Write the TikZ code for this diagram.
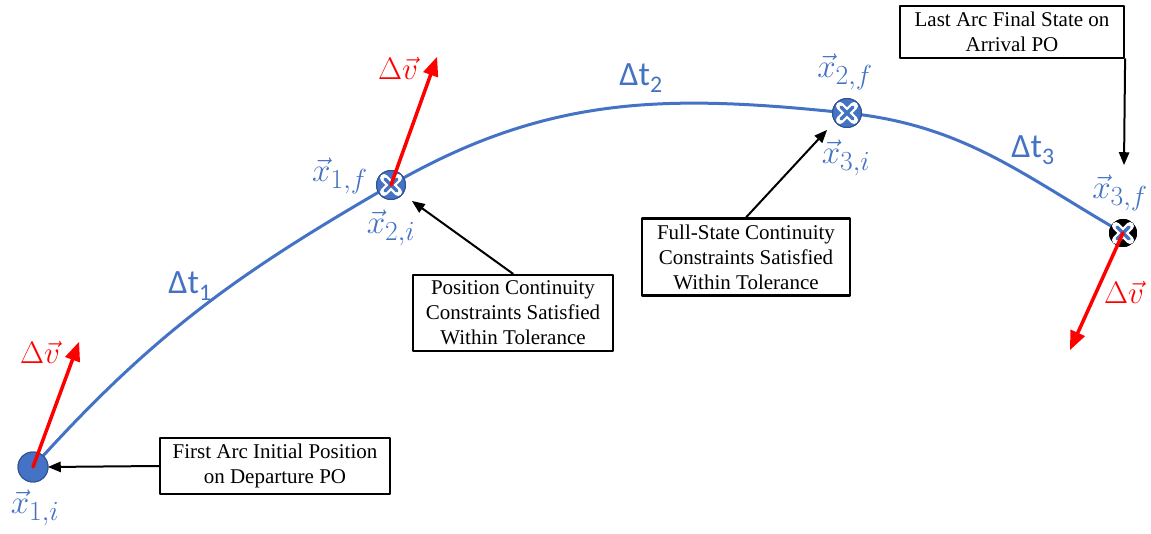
\documentclass[tikz,border=0pt]{standalone}
\usepackage{amsmath,amssymb}
\usepackage{fontspec}
\setmainfont{Liberation Serif}
\setsansfont{Carlito}
\usetikzlibrary{arrows}
\definecolor{qqttcc}{rgb}{0.267,0.447,0.769}
\definecolor{qqeeuu}{rgb}{0.184,0.322,0.561}
\definecolor{ffqqqq}{rgb}{1,0,0}
\newcommand{\bigvec}[1]{\scalebox{1.33}{$#1$}}

\begin{document}
\begin{tikzpicture}[line cap=round,line join=round,>=triangle 45,x=1pt,y=1pt,
  patchpt/.style={circle,inner sep=0pt,minimum size=30pt,fill=qqttcc,draw=qqeeuu,line width=1pt},
  notebox/.style={draw=black,line width=2.2pt,fill=white,align=center,inner sep=6pt,
    font=\fontsize{21}{25}\selectfont},
  veclbl/.style={color=qqttcc,font=\fontsize{24.88}{26}\selectfont},
  dtlbl/.style={color=qqttcc,font=\sffamily\fontsize{34}{34}\selectfont},
  dvlbl/.style={color=ffqqqq,font=\fontsize{24.88}{26}\selectfont}]
\useasboundingbox (0,0) rectangle (1151,533);

% patch points along the transfer
\node[patchpt] (p1) at (33,66) {};
\node[patchpt,minimum size=29pt] (p2) at (391,348) {};
\node[patchpt,minimum size=29pt] (p3) at (847,420) {};
\node[patchpt,minimum size=27pt,fill=black,draw=black] (p4) at (1123,300) {};

% arcs
\draw[color=qqttcc,line width=3pt] (p1.center) to[out=48,in=210] (p2.center)
  to[out=30,in=174] (p3.center) to[out=-6,in=150] (p4.center);

\node[patchpt] at (p1) {};
\node[patchpt,minimum size=29pt] at (p2) {};
\node[patchpt,minimum size=29pt] at (p3) {};
\node[patchpt,minimum size=27pt,fill=black,draw=black] at (p4) {};

\foreach \p in {p2,p3,p4}{
\draw[white,line width=8pt] ([shift={(-7,-7)}]\p.center) -- ([shift={(7,7)}]\p.center);
\draw[white,line width=8pt] ([shift={(-7,7)}]\p.center) -- ([shift={(7,-7)}]\p.center);
\draw[qqttcc,line width=3.5pt] ([shift={(-6,-6)}]\p.center) -- ([shift={(6,6)}]\p.center);
\draw[qqttcc,line width=3.5pt] ([shift={(-6,6)}]\p.center) -- ([shift={(6,-6)}]\p.center);
}

% delta-v
\coordinate (dv1) at (79,191);
\coordinate (dv2) at (437,476);
\coordinate (dv3) at (1070,183);
\draw[->,color=ffqqqq,line width=3.5pt] (p1.center) -- (dv1);
\draw[->,color=ffqqqq,line width=3.5pt] (p2.center) -- (dv2);
\draw[->,color=ffqqqq,line width=3.5pt] (p4.center) -- (dv3);
\node[dvlbl] (dvt1) at (40,181) {\scalebox{1.25}{$\Delta\vec{v}$}};
\node[dvlbl] (dvt2) at (398,465) {\scalebox{1.25}{$\Delta\vec{v}$}};
\node[dvlbl] (dvt3) at (1124,241) {\scalebox{1.25}{$\Delta\vec{v}$}};

% states
\node[veclbl] (x1i) at (35,25) {\bigvec{\vec{x}_{1,i}}};
\node[veclbl] (x1f) at (340,357) {\bigvec{\vec{x}_{1,f}}};
\node[veclbl] (x2i) at (391,305) {\bigvec{\vec{x}_{2,i}}};
\node[veclbl] (x2f) at (845,461) {\bigvec{\vec{x}_{2,f}}};
\node[veclbl] (x3i) at (846,375) {\bigvec{\vec{x}_{3,i}}};
\node[veclbl] (x3f) at (1120,340) {\bigvec{\vec{x}_{3,f}}};

% times of flight
\node[dtlbl] (dt1) at (190,247) {Δt\textsubscript{1}};
\node[dtlbl] (dt2) at (641,455) {Δt\textsubscript{2}};
\node[dtlbl] (dt3) at (1033,383) {Δt\textsubscript{3}};

% notes
\node[notebox,minimum width=230pt] (b1) at (275,67) {First Arc Initial Position\\on Departure PO};
\node[notebox,minimum width=200pt] (b2) at (513,220) {Position Continuity\\Constraints Satisfied\\Within Tolerance};
\node[notebox,minimum width=208pt] (b3) at (746,276) {Full-State Continuity\\Constraints Satisfied\\Within Tolerance};
\node[notebox,minimum width=224pt] (b4) at (1012,501) {Last Arc Final State on\\Arrival PO};
\coordinate (t1) at (48,66);
\coordinate (t2) at (412,332);
\coordinate (t3) at (827,403);
\coordinate (t4) at (1124,368);
\draw[->,color=black,line width=2pt] (b1.west) -- (t1);
\draw[->,color=black,line width=2pt] (b2.north) -- (t2);
\draw[->,color=black,line width=2pt] (b3.north) -- (t3);
\draw[->,color=black,line width=2pt] (b4.south east) -- (t4);
\end{tikzpicture}
\end{document}
